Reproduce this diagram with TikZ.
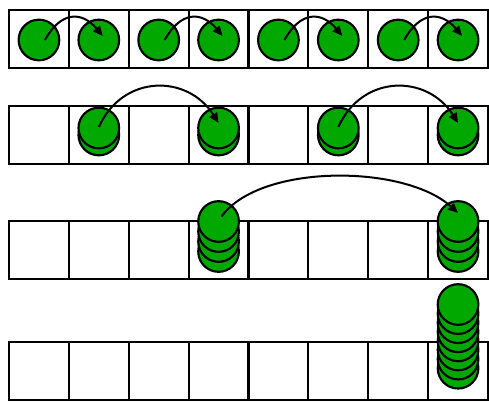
\documentclass[tikz,border=0pt]{standalone}
\usetikzlibrary{arrows.meta}
\definecolor{coin}{RGB}{0,168,0}
\begin{document}
\begin{tikzpicture}[x=0.75pt,y=-0.75pt,
  cell/.style={draw=black,line width=1.5pt,minimum width=44.9pt,minimum height=43.5pt,inner sep=0pt,outer sep=0pt},
  coinnode/.style={circle,draw=black,fill=coin,line width=1.6pt,minimum size=30.5pt,inner sep=0pt},
  hop/.style={line width=1.5pt,-{Triangle[length=7.5pt,width=6.5pt]}}]
\useasboundingbox (0,0) rectangle (489,402);
% cells
\foreach \r/\y in {1/39,2/135.5,3/250,4/371.5}{
  \foreach \c in {1,...,8}{
    \node[cell] (b\r\c) at ({9+59.875*(\c-0.5)},\y) {};
  }
}
% row 1 coins
\foreach \c in {1,...,8}{
  \node[coinnode] (k1\c) at ({9+59.875*(\c-0.5)},40) {};
}
% row 2 coins (2 per stack)
\foreach \c in {2,4,6,8}{
  \node[coinnode] (k2\c x1) at ({9+59.875*(\c-0.5)},135) {};
  \node[coinnode] (k2\c) at ({9+59.875*(\c-0.5)},128) {};
}
% row 3 coins (4 per stack)
\foreach \c in {4,8}{
  \foreach \n in {3,2,1}{
    \node[coinnode] (k3\c x\n) at ({9+59.875*(\c-0.5)},{221.5+10*\n}) {};
  }
  \node[coinnode] (k3\c) at ({9+59.875*(\c-0.5)},221.5) {};
}
% row 4 coins (8 in one stack)
\foreach \n in {7,6,...,1}{
  \node[coinnode] (k48x\n) at ({9+59.875*7.5},{304.5+9.1*\n}) {};
}
\node[coinnode] (k48) at ({9+59.875*7.5},304.5) {};
% arrows
\foreach \a/\b in {1/2,3/4,5/6,7/8}{
  \draw[hop] ([xshift=4.5pt]k1\a.center) .. controls +(16,-29) and +(-21,-25) .. ([xshift=3pt,yshift=3pt]k1\b.center);
}
\foreach \a/\b in {2/4,6/8}{
  \draw[hop] ([yshift=0.75pt]k2\a.center) .. controls +(24,-53) and +(-31,-49) .. ([yshift=3.75pt]k2\b.center);
}
\draw[hop] ([xshift=2.25pt,yshift=3.75pt]k34.center) .. controls +(38,-53) and +(-54,-49) .. ([yshift=6.4pt]k38.center);
\end{tikzpicture}
\end{document}
